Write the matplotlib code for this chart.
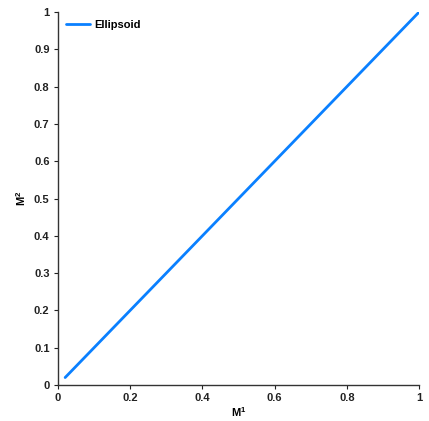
import matplotlib
matplotlib.use("Agg")
import matplotlib.pyplot as plt

plt.rcParams['font.family'] = ['Liberation Sans', 'DejaVu Sans']
plt.rcParams['mathtext.fontset'] = 'custom'
plt.rcParams['mathtext.bf'] = 'Liberation Sans:bold'
plt.rcParams['mathtext.rm'] = 'Liberation Sans'

m1 = [0.02, 0.2, 0.4, 0.6, 0.8, 1.0]
m2 = [0.02, 0.2, 0.4, 0.6, 0.8, 1.0]
xticks = [0, 0.2, 0.4, 0.6, 0.8, 1]
yticks = [0, 0.1, 0.2, 0.3, 0.4, 0.5, 0.6, 0.7, 0.8, 0.9, 1]

fig = plt.figure(figsize=(4.29, 4.21), dpi=100)
ax = fig.add_axes([0.135, 0.0855, 0.842, 0.886])
ax.plot(m1, m2, color='#0a80ff', lw=2.0, label='Ellipsoid', solid_capstyle='round')
ax.set_xlim(0, 1)
ax.set_ylim(0, 1)
ax.set_xticks(xticks)
ax.set_xticklabels([f"{t:g}" for t in xticks])
ax.set_yticks(yticks)
ax.set_yticklabels([f"{t:g}" for t in yticks])
for s in ['top', 'right']:
    ax.spines[s].set_visible(False)
for s in ['left', 'bottom']:
    ax.spines[s].set_color('#333333')
    ax.spines[s].set_linewidth(1.0)
ax.tick_params(direction='out', length=3, width=0.8, labelsize=8, colors='#222222', pad=3)
for lab in ax.get_xticklabels() + ax.get_yticklabels():
    lab.set_fontweight('bold')
ax.set_xlabel(r'$\mathbf{M}^{\mathbf{1}}$', fontsize=8, labelpad=1)
ax.set_ylabel(r'$\mathbf{M}^{\mathbf{2}}$', fontsize=8, labelpad=4)
leg = ax.legend(loc='upper left', frameon=False, prop={'size': 8, 'weight': 'bold'},
                handlelength=2.2, handletextpad=0.4, borderaxespad=0.3)
fig.savefig('out.png', dpi=100)
